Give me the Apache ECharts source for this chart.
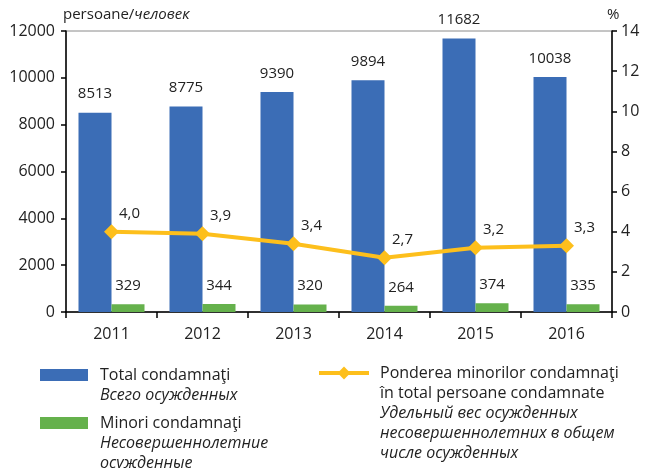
<!DOCTYPE html>
<html>
<head>
<meta charset="utf-8">
<script src="https://cdn.jsdelivr.net/npm/echarts@6/dist/echarts.min.js"></script>
<style>html,body{margin:0;padding:0;background:#fff}#c{width:646px;height:468px}</style>
</head>
<body>
<div id="c"></div>
<script>
const years = ['2011','2012','2013','2014','2015','2016'];
const totalConvicted = [8513, 8775, 9390, 9894, 11682, 10038];
const minorsConvicted = [329, 344, 320, 264, 374, 335];
const minorsShare = [4.0, 3.9, 3.4, 2.7, 3.2, 3.3];
const leftTicks = {min: 0, max: 12000, interval: 2000};
const rightTicks = {min: 0, max: 14, interval: 2};

const FONT = '"Open Sans", sans-serif';
const TXT = '#222';
const BLUE = '#3b6db6', GREEN = '#65b14c', GOLD = '#fdbf1c';

const chart = echarts.init(document.getElementById('c'), null, {renderer: 'canvas'});
const richLegend = {
  a: {fontFamily: FONT, fontSize: 16, color: TXT, lineHeight: 20},
  b: {fontFamily: FONT, fontSize: 16, color: TXT, lineHeight: 20, fontStyle: 'italic'}
};
chart.setOption({
  animation: false,
  textStyle: {fontFamily: FONT},
  grid: {left: 66, right: 34, top: 31, bottom: 156, show: true, borderColor: '#8a8a8a', borderWidth: 1},
  graphic: [
    {type: 'text', left: 63, top: 7, style: {
      text: '{a|persoane/}{b|человек}',
      rich: {a: {fontFamily: FONT, fontSize: 15, fill: TXT}, b: {fontFamily: FONT, fontSize: 15, fill: TXT, fontStyle: 'italic'}}
    }},
    {type: 'text', left: 607, top: 7, style: {text: '%', fontFamily: FONT, fontSize: 15, fill: TXT}}
  ],
  xAxis: {
    type: 'category', data: years, boundaryGap: true,
    axisLine: {lineStyle: {color: '#000', width: 1.5}},
    axisTick: {show: true, length: 6, lineStyle: {color: '#000', width: 1.5}},
    axisLabel: {color: TXT, fontSize: 16, margin: 14, fontFamily: FONT}
  },
  yAxis: [
    {type: 'value', min: leftTicks.min, max: leftTicks.max, interval: leftTicks.interval,
     splitLine: {show: false},
     axisLine: {show: true, lineStyle: {color: '#000', width: 1.5}},
     axisTick: {show: true, length: 5, lineStyle: {color: '#000', width: 1.5}},
     axisLabel: {color: TXT, fontSize: 16, margin: 11, fontFamily: FONT, formatter: v => String(v)}},
    {type: 'value', min: rightTicks.min, max: rightTicks.max, interval: rightTicks.interval,
     position: 'right', splitLine: {show: false},
     axisLine: {show: true, lineStyle: {color: '#000', width: 1.5}},
     axisTick: {show: true, length: 5, lineStyle: {color: '#000', width: 1.5}},
     axisLabel: {color: TXT, fontSize: 16, margin: 9, fontFamily: FONT, formatter: v => String(v)}}
  ],
  legend: [
    {left: 40, top: 367, padding: 0, itemWidth: 48, itemHeight: 12, data: [{name: 'total', icon: 'rect'}],
     formatter: () => '{a|Total condamnaţi}\n{b|Всего осужденных}',
     textStyle: {padding: [20, 0, 0, 7], rich: richLegend}},
    {left: 40, top: 415, padding: 0, itemWidth: 48, itemHeight: 12, data: [{name: 'minors', icon: 'rect'}],
     formatter: () => '{a|Minori condamnaţi}\n{b|Несовершеннолетние}\n{b|осужденные}',
     textStyle: {padding: [40, 0, 0, 7], rich: richLegend}},
    {left: 317, top: 365, padding: 0, itemWidth: 50, itemHeight: 16, data: ['share'],
     lineStyle: {width: 4},
     formatter: () => '{a|Ponderea minorilor condamnaţi}\n{a|în total persoane condamnate}\n{b|Удельный вес осужденных}\n{b|несовершеннолетних в общем}\n{b|числе осужденных}',
     textStyle: {padding: [80, 0, 0, 6], rich: richLegend}}
  ],
  series: [
    {name: 'total', type: 'bar', data: totalConvicted, yAxisIndex: 0, barWidth: 33, barGap: '0%',
     itemStyle: {color: BLUE},
     label: {show: true, position: 'top', distance: 11, color: TXT, fontSize: 15, fontFamily: FONT}},
    {name: 'minors', type: 'bar', data: minorsConvicted, yAxisIndex: 0, barWidth: 33, barGap: '0%',
     itemStyle: {color: GREEN},
     label: {show: true, position: 'top', distance: 11, color: TXT, fontSize: 15, fontFamily: FONT}},
    {name: 'share', type: 'line', data: minorsShare, yAxisIndex: 1, z: 5,
     symbol: 'diamond', symbolSize: 15,
     lineStyle: {color: GOLD, width: 4}, itemStyle: {color: GOLD},
     label: {show: true, position: 'top', distance: 3, offset: [18, 0], color: TXT, fontSize: 15, fontFamily: FONT,
       formatter: p => p.value.toFixed(1).replace('.', ',')}}
  ]
});
</script>
</body>
</html>
